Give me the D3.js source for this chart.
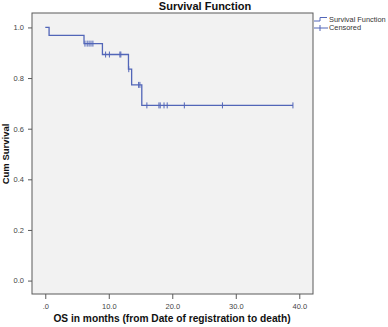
<!DOCTYPE html>
<html>
<head>
<meta charset="utf-8">
<script src="https://cdn.jsdelivr.net/npm/d3@7"></script>
<style>
  body { margin: 0; background: #fff; }
  svg { display: block; font-family: "Liberation Sans", Arial, sans-serif; }
</style>
</head>
<body>
<div class="chart"></div>
<script>
// KM step points (time in months, cumulative survival)
const eventTimes = [0, 0.6, 6.1, 9.0, 13.1, 13.6, 15.2];
const survival = [1.0, 0.969, 0.936, 0.893, 0.835, 0.773, 0.692];
// censored cases
const censorTimes = [6.25, 6.6, 6.9, 7.2, 7.5, 9.5, 10.1, 11.75, 11.9, 13.15,
  14.7, 14.9, 16.0, 17.9, 18.1, 18.7, 19.2, 21.9, 27.9, 39.0];
const xTicks = [0, 10, 20, 30, 40];
const yTicks = [0, 0.2, 0.4, 0.6, 0.8, 1.0];
const endTime = 39.0;

const w = 388;
const h = 327;
const plot = { left: 32, top: 13, right: 313, bottom: 294 };
const curveColor = '#5266b8';

const svg = d3.select('.chart').append('svg')
  .attr('width', w)
  .attr('height', h);

const xScale = d3.scaleLinear().domain([-2.09, 42.16]).range([plot.left, plot.right]);
const yScale = d3.scaleLinear().domain([-0.053, 1.057]).range([plot.bottom, plot.top]);

// plot background
svg.append('rect')
  .attr('x', plot.left)
  .attr('y', plot.top)
  .attr('width', plot.right - plot.left)
  .attr('height', plot.bottom - plot.top)
  .attr('fill', '#f2f2f2')
  .attr('stroke', '#5a5a5a')
  .attr('stroke-width', 1);

// axes
const xAxis = d3.axisBottom(xScale).tickValues(xTicks).tickSize(5).tickSizeOuter(0)
  .tickFormat((d) => (d === 0 ? '.0' : d3.format('.1f')(d)));
const yAxis = d3.axisLeft(yScale).tickValues(yTicks).tickSize(4).tickSizeOuter(0)
  .tickFormat(d3.format('.1f'));

const gx = svg.append('g')
  .attr('transform', `translate(0, ${plot.bottom})`)
  .call(xAxis);
const gy = svg.append('g')
  .attr('transform', `translate(${plot.left}, 0)`)
  .call(yAxis);

[gx, gy].forEach((g) => {
  g.select('.domain').remove();
  g.selectAll('line').attr('stroke', '#5a5a5a');
  g.selectAll('text').attr('fill', '#444').style('font-size', '7.5px');
});
gx.selectAll('text').attr('dy', '0.9em');
gy.selectAll('text').attr('dx', '-1px');

// survival curve
const stepPts = eventTimes.map((t, i) => [t, survival[i]]);
stepPts.push([endTime, survival[survival.length - 1]]);
const line = d3.line()
  .x((d) => xScale(d[0]))
  .y((d) => yScale(d[1]))
  .curve(d3.curveStepAfter);

svg.append('path')
  .datum(stepPts)
  .attr('fill', 'none')
  .attr('stroke', curveColor)
  .attr('stroke-width', 1.3)
  .attr('d', line);

// censored marks
const survAt = (t) => {
  let s = survival[0];
  eventTimes.forEach((e, i) => { if (e <= t) s = survival[i]; });
  return s;
};
svg.append('g')
  .selectAll('line')
  .data(censorTimes)
  .enter()
  .append('line')
  .attr('x1', (d) => xScale(d))
  .attr('x2', (d) => xScale(d))
  .attr('y1', (d) => yScale(survAt(d)) - 3)
  .attr('y2', (d) => yScale(survAt(d)) + 3)
  .attr('stroke', curveColor)
  .attr('stroke-width', 1);

// title
svg.append('text')
  .attr('x', 205)
  .attr('y', 10)
  .attr('text-anchor', 'middle')
  .style('font-size', '11px')
  .style('font-weight', 'bold')
  .attr('fill', '#111')
  .text('Survival Function');

// axis titles
svg.append('text')
  .attr('transform', 'rotate(-90)')
  .attr('x', -154)
  .attr('y', 9)
  .attr('text-anchor', 'middle')
  .style('font-size', '9.5px')
  .style('font-weight', 'bold')
  .attr('fill', '#111')
  .text('Cum Survival');

svg.append('text')
  .attr('x', 172)
  .attr('y', 322)
  .attr('text-anchor', 'middle')
  .style('font-size', '10.2px')
  .style('font-weight', 'bold')
  .attr('fill', '#111')
  .text('OS in months (from Date of registration to death)');

// legend
const legend = svg.append('g');
legend.append('path')
  .attr('d', 'M314,21H320V17.5H327')
  .attr('fill', 'none')
  .attr('stroke', curveColor)
  .attr('stroke-width', 1);
legend.append('line')
  .attr('x1', 314).attr('x2', 328)
  .attr('y1', 28).attr('y2', 28)
  .attr('stroke', curveColor);
legend.append('line')
  .attr('x1', 320).attr('x2', 320)
  .attr('y1', 25).attr('y2', 31)
  .attr('stroke', curveColor);
legend.selectAll('text')
  .data(['Survival Function', 'Censored'])
  .enter()
  .append('text')
  .attr('x', 329)
  .attr('y', (d, i) => 21.5 + i * 8)
  .style('font-size', '7.4px')
  .attr('fill', '#333')
  .text((d) => d);
</script>
</body>
</html>
